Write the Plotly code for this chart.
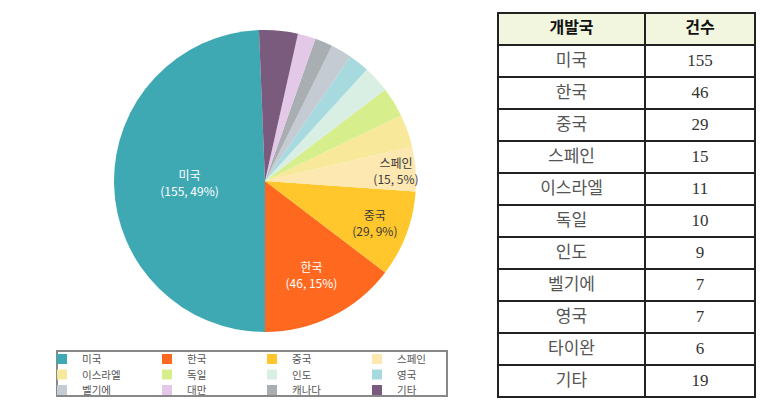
import plotly.graph_objects as go

# ---- data ----
countries = ["미국", "한국", "중국", "스페인", "이스라엘", "독일", "인도", "영국", "벨기에", "캐나다", "대만", "기타"]
counts = [155, 46, 29, 15, 11, 10, 9, 7, 7, 6, 6, 13]
colors = ["#3FA9B3", "#FF681F", "#FFC72C", "#FDE8B2", "#F8E99A", "#D6EE8C", "#D9EFE4",
          "#A6DADF", "#C4CBD3", "#A9AEB3", "#E4C8E8", "#7A5A7D"]
labelled = ["미국", "한국", "중국", "스페인"]
label_colors = {"미국": "white", "한국": "white", "중국": "#3a3a3a", "스페인": "#3a3a3a"}

legend_order = ["미국", "한국", "중국", "스페인", "이스라엘", "독일", "인도", "영국",
                "벨기에", "대만", "캐나다", "기타"]

table_countries = ["미국", "한국", "중국", "스페인", "이스라엘", "독일", "인도", "벨기에", "영국", "타이완", "기타"]
table_counts = [155, 46, 29, 15, 11, 10, 9, 7, 7, 6, 19]
table_header = ["개발국", "건수"]

W, H = 760, 411
def px_x(x):
    return x / W
def px_y(y):
    return 1 - y / H

fig = go.Figure()

templates = ["%{label}<br>(%{value}, %{percent:.0%})" if c in labelled else "" for c in countries]
fig.add_trace(go.Pie(
    labels=countries, values=counts, sort=False, direction="counterclockwise", rotation=180,
    marker=dict(colors=colors, line=dict(width=0)),
    texttemplate=templates, textposition="inside", insidetextorientation="horizontal",
    insidetextfont=dict(color=[label_colors.get(c, "#333") for c in countries],
                        family="Noto Sans CJK KR", size=12),
    showlegend=False, hoverinfo="label+value+percent",
    domain=dict(x=[px_x(114), px_x(416)], y=[px_y(332), px_y(30)]),
))

# legend entries (three rows of four), one per category
cmap = dict(zip(countries, colors))
for i, name in enumerate(legend_order):
    row = i // 4
    fig.add_trace(go.Scatter(
        x=[None], y=[None], mode="markers", name=name,
        marker=dict(symbol="square", size=10, color=cmap[name]),
        legend="legend" if row == 0 else f"legend{row + 1}",
        showlegend=True,
    ))

leg_common = dict(orientation="h", xanchor="left", yanchor="middle", entrywidth=60,
                  entrywidthmode="pixels", bgcolor="rgba(0,0,0,0)", borderwidth=0,
                  font=dict(family="Noto Sans CJK KR", size=10.5, color="#555555"),
                  itemclick=False, itemdoubleclick=False)
row_y = [359, 374.5, 390]

fig.add_trace(go.Table(
    columnwidth=[147, 110],
    header=dict(values=table_header, fill_color="#F3F6DF", align="center", height=32,
                line=dict(color="#222222", width=1.5),
                font=dict(family="Noto Sans CJK KR", size=16, color="#111111", weight="bold")),
    cells=dict(values=[table_countries, table_counts], fill_color="white", align="center", height=32,
               line=dict(color="#222222", width=1.5),
               font=dict(family="Liberation Serif, Noto Sans CJK KR", size=17,
                         color=[["#555555"], ["#333333"]])),
    domain=dict(x=[px_x(498), px_x(756)], y=[px_y(398), px_y(13)]),
))

fig.update_layout(
    width=W, height=H, margin=dict(l=0, r=0, t=0, b=0),
    paper_bgcolor="white", plot_bgcolor="white",
    xaxis=dict(visible=False), yaxis=dict(visible=False),
    legend=dict(x=px_x(42), y=px_y(row_y[0]), **leg_common),
    legend2=dict(x=px_x(42), y=px_y(row_y[1]), **leg_common),
    legend3=dict(x=px_x(42), y=px_y(row_y[2]), **leg_common),
    uniformtext=dict(minsize=12, mode="show"),
    shapes=[dict(type="rect", xref="paper", yref="paper",
                 x0=px_x(57), x1=px_x(447), y0=px_y(396), y1=px_y(351),
                 line=dict(color="#888888", width=2), fillcolor="rgba(0,0,0,0)")],
)

fig.write_html("out.html")
